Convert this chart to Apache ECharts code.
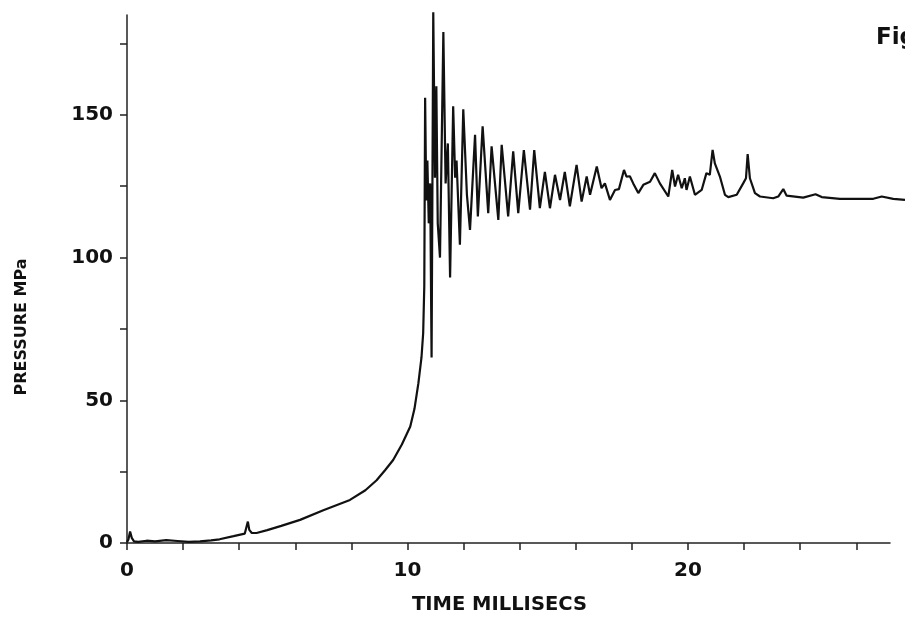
<!DOCTYPE html>
<html>
<head>
<meta charset="utf-8">
<script src="https://cdn.jsdelivr.net/npm/echarts@6/dist/echarts.min.js"></script>
<style>html,body{margin:0;padding:0;background:#fff}#c{width:905px;height:630px}</style>
</head>
<body>
<div id="c"></div>
<script>
var timeMs = [0.00,0.05,0.11,0.17,0.25,0.40,0.70,1.00,1.40,1.80,2.20,2.60,3.00,3.30,3.80,4.20,4.27,4.31,4.36,4.45,4.62,5.00,5.50,6.17,7.00,7.95,8.50,8.90,9.20,9.49,9.80,10.10,10.25,10.39,10.50,10.56,10.60,10.63,10.67,10.71,10.76,10.81,10.86,10.92,10.98,11.03,11.08,11.16,11.28,11.36,11.44,11.52,11.63,11.70,11.75,11.87,11.99,12.12,12.23,12.41,12.51,12.68,12.88,13.00,13.24,13.36,13.59,13.77,13.95,14.15,14.37,14.52,14.72,14.90,15.08,15.26,15.44,15.61,15.79,16.03,16.21,16.39,16.51,16.75,16.92,17.04,17.22,17.40,17.54,17.72,17.81,17.93,18.05,18.23,18.41,18.65,18.82,19.00,19.30,19.44,19.54,19.65,19.78,19.89,19.95,20.07,20.25,20.49,20.66,20.78,20.88,20.96,21.14,21.32,21.44,21.74,21.97,22.07,22.13,22.21,22.39,22.57,23.04,23.22,23.40,23.52,24.11,24.55,24.77,25.42,26.61,26.91,27.32,27.74];
var pressureMPa = [0.3,1.2,4.0,1.8,0.6,0.4,0.8,0.6,1.0,0.7,0.4,0.6,0.9,1.3,2.4,3.3,4.0,7.5,4.6,3.5,3.5,4.5,6.0,8.1,11.5,15.1,18.5,22.0,25.5,29.1,34.5,40.8,47.0,56.0,65.0,73.5,90.0,156.0,120.0,134.0,112.0,126.0,65.0,186.0,128.0,160.0,112.0,100.0,179.0,126.0,140.0,93.0,153.0,128.0,134.0,104.5,152.0,122.0,109.7,143.0,114.4,146.0,115.6,139.0,113.2,139.5,114.4,137.2,115.6,137.7,116.8,137.7,117.3,130.0,117.3,129.0,120.2,130.0,118.0,132.5,119.6,128.4,122.0,131.9,124.3,126.0,120.2,123.7,124.0,130.7,128.4,128.5,126.0,122.6,125.5,126.6,129.6,126.0,121.4,130.7,124.9,129.0,124.3,127.8,123.7,128.4,122.0,123.7,129.6,129.0,137.7,133.0,128.4,122.0,121.2,122.0,126.0,127.8,136.3,127.8,122.6,121.4,120.8,121.4,124.0,121.7,121.0,122.2,121.2,120.6,120.6,121.4,120.6,120.2];
var xTicks = [0,2,4,6,8,10,12,14,16,18,20,22,24,26];
var xLabels = [0,10,20];
var yTicks = [0,25,50,75,100,125,150,175];
var yLabels = [0,50,100,150];

var FONT = 'DejaVu Sans';
var chart = echarts.init(document.getElementById('c'), null, {renderer: 'canvas'});
chart.setOption({
  backgroundColor: '#ffffff',
  animation: false,
  grid: [
    {left: 127, right: 15, top: 15, bottom: 87, containLabel: false},
    {left: 127, right: 0, top: 15, bottom: 87, containLabel: false}
  ],
  xAxis: [{
    gridIndex: 0, type: 'value', min: 0, max: 27.2,
    name: 'TIME MILLISECS', nameLocation: 'middle', nameGap: 52,
    nameTextStyle: {fontFamily: FONT, fontWeight: 'bold', fontSize: 19.5, color: '#111', padding: [0, 18, 0, 0]},
    axisLine: {show: true, onZero: false, lineStyle: {color: '#222', width: 1.5}},
    axisTick: {show: true, inside: false, length: 7, customValues: xTicks, lineStyle: {color: '#222', width: 1.5}},
    axisLabel: {show: true, customValues: xLabels, margin: 18, fontFamily: FONT, fontWeight: 'bold', fontSize: 20, color: '#111'},
    splitLine: {show: false}
  }, {
    gridIndex: 1, type: 'value', min: 0, max: 27.74, show: false
  }],
  yAxis: [{
    gridIndex: 0, type: 'value', min: 0, max: 185,
    name: 'PRESSURE MPa', nameLocation: 'middle', nameGap: 97,
    nameTextStyle: {fontFamily: FONT, fontWeight: 'bold', fontSize: 16, color: '#111', padding: [0, 96, 0, 0]},
    axisLine: {show: true, onZero: false, lineStyle: {color: '#222', width: 1.5}},
    axisTick: {show: true, inside: false, length: 7, customValues: yTicks, lineStyle: {color: '#222', width: 1.5}},
    axisLabel: {show: true, customValues: yLabels, margin: 14, fontFamily: FONT, fontWeight: 'bold', fontSize: 20, color: '#111'},
    splitLine: {show: false}
  }, {
    gridIndex: 1, type: 'value', min: 0, max: 185, show: false
  }],
  graphic: [{
    type: 'text', left: 876, top: 27,
    style: {text: 'Fig', fontFamily: FONT, fontWeight: 'bold', fontSize: 23, fill: '#111'}
  }],
  series: [{
    type: 'line',
    xAxisIndex: 1, yAxisIndex: 1,
    data: timeMs.map(function (t, i) { return [t, pressureMPa[i]]; }),
    showSymbol: false,
    clip: false,
    lineStyle: {color: '#111', width: 2.2},
    smooth: false
  }]
});
</script>
</body>
</html>
